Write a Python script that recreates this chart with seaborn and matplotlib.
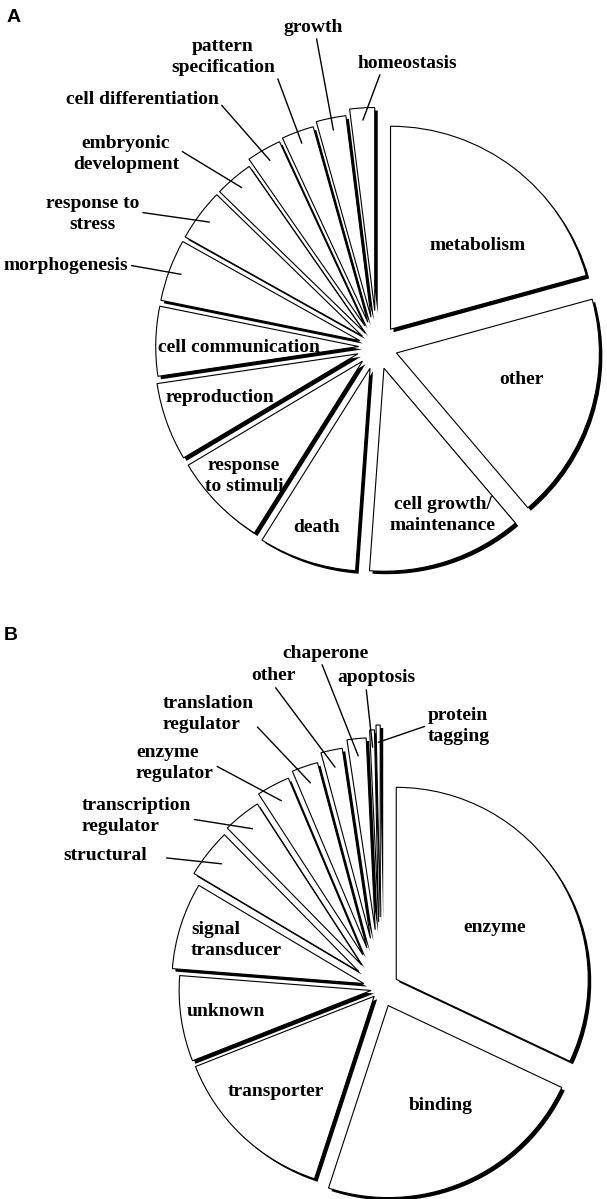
import numpy as np
import matplotlib
matplotlib.use("Agg")
import matplotlib.pyplot as plt
import seaborn as sns

W, H = 607, 1199

# panel A: biological process (%)
process_labels = ["metabolism", "other", "cell growth/\nmaintenance", "death",
                  "response\nto stimuli", "reproduction", "cell communication",
                  "morphogenesis", "response to\nstress", "embryonic\ndevelopment",
                  "cell differentiation", "pattern\nspecification", "growth", "homeostasis"]
process_values = [21.0, 18.3, 12.5, 7.9, 7.6, 6.3, 5.6, 5.0, 4.2, 3.1, 2.8, 2.6, 2.4, 2.0]

# panel B: molecular function (%)
function_labels = ["enzyme", "binding", "transporter", "unknown", "signal\ntransducer",
                   "structural", "transcription\nregulator", "enzyme\nregulator",
                   "translation\nregulator", "other", "chaperone", "apoptosis", "protein\ntagging"]
function_values = [32.0, 23.0, 14.0, 7.2, 7.3, 4.1, 3.2, 2.8, 2.2, 1.8, 1.6, 0.4, 0.35]

sns.set_style("white")
plt.rcParams["font.family"] = ["Liberation Serif", "DejaVu Serif"]
plt.rcParams["text.color"] = "black"

fig = plt.figure(figsize=(W / 100, H / 100), dpi=100)
ax = fig.add_axes([0, 0, 1, 1])


def draw_pie(ax, values, center, radius, explode):
    n = len(values)
    cx, cy = center[0], H - center[1]
    offs = [e * radius for e in explode]  # pie's explode is in data units
    # shadow copy, shifted right/down
    ax.pie(values, explode=offs, startangle=90, counterclock=False, radius=radius,
           center=(cx + 3, cy - 3), colors=["black"] * n,
           wedgeprops=dict(linewidth=0))
    wedges, _ = ax.pie(values, explode=offs, startangle=90, counterclock=False,
                       radius=radius, center=(cx, cy), colors=["white"] * n,
                       wedgeprops=dict(edgecolor="black", linewidth=0.8))
    return wedges


def anchor(w, frac):
    mid = np.deg2rad((w.theta1 + w.theta2) / 2)
    return (w.center[0] + w.r * frac * np.cos(mid), w.center[1] + w.r * frac * np.sin(mid))


txt = dict(fontsize=14, fontweight="bold", linespacing=1.25, va="center", color="black")

# ---- A ----
explode_a = [0.11, 0.10, 0.11, 0.11, 0.10, 0.10, 0.09, 0.09, 0.09, 0.09, 0.12, 0.13, 0.15, 0.18]
wa = draw_pie(ax, process_values, (377, 347), 203, explode_a)

inside_a = {0: (478, 245, "center"), 1: (521, 379, "center"), 2: (390, 515, "left"),
            3: (317, 528, "center"), 4: (244, 476, "center"), 5: (220, 398, "center"),
            6: (239, 348, "center")}
for i, (x, y, ha) in inside_a.items():
    ax.text(x, H - y, process_labels[i], ha=ha, multialignment="center", **txt)

outside_a = {7: (66, 265, "center", (1, 0.5)), 8: (93, 214, "center", (1, 0.55)),
             9: (126, 154, "center", (0.97, 0.67)), 10: (142, 99, "center", (1, 0.35)),
             11: (223, 57, "center", (1, 0.12)), 12: (313, 27, "center", (0.55, 0)),
             13: (407, 63, "center", (0.24, 0))}
for i, (x, y, ha, rp) in outside_a.items():
    ax.annotate(process_labels[i], xy=anchor(wa[i], 0.94), xytext=(x, H - y), ha=ha,
                multialignment="center",
                arrowprops=dict(arrowstyle="-", lw=1.0, color="black",
                                shrinkA=0, shrinkB=0, relpos=rp), **txt)

# ---- B ----
explode_b = [0.094, 0.094, 0.052, 0.052, 0.094, 0.146, 0.16, 0.2, 0.225, 0.27, 0.31, 0.35, 0.375]
wb = draw_pie(ax, function_values, (381, 989), 192, explode_b)

inside_b = {0: (495, 928, "center"), 1: (441, 1105, "center"), 2: (276, 1091, "center"),
            3: (187, 1011, "left"), 4: (191, 940, "left")}
for i, (x, y, ha) in inside_b.items():
    ax.text(x, H - y, function_labels[i], ha=ha, multialignment="left", **txt)

outside_b = {5: (63, 855, "left", (1, 0.45), 12), 6: (82, 816, "left", (0.89, 0.47), 0),
             7: (136, 763, "left", (0.87, 0.6), 0), 8: (163, 714, "left", (0.92, 0.45), 0),
             9: (251, 676, "left", (0.5, 0), 0), 10: (282, 653, "left", (0.45, 0), 0),
             11: (337, 678, "left", (0.37, 0), 0), 12: (428, 726, "left", (0, 0.52), 0)}
for i, (x, y, ha, rp, sh) in outside_b.items():
    ax.annotate(function_labels[i], xy=anchor(wb[i], 0.91), xytext=(x, H - y), ha=ha,
                multialignment="left",
                arrowprops=dict(arrowstyle="-", lw=1.0, color="black",
                                shrinkA=sh, shrinkB=0, relpos=rp), **txt)

for letter, (x, y) in {"A": (14, 17), "B": (11, 635)}.items():
    ax.text(x, H - y, letter, ha="center", va="center", fontsize=14, fontweight="bold",
            color="black", family=["Liberation Sans", "DejaVu Sans"])

ax.set_xlim(0, W)
ax.set_ylim(0, H)
ax.set_aspect("equal")
ax.axis("off")

fig.savefig("out.png", dpi=100, facecolor="white")
